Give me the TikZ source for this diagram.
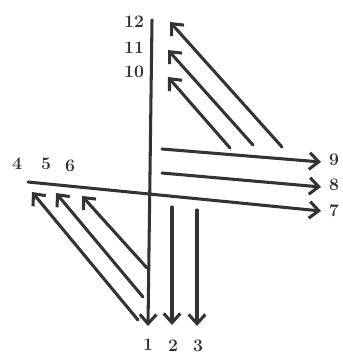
\documentclass[tikz,border=0pt]{standalone}
\usepackage{tikz}
\usetikzlibrary{positioning,arrows.meta}
\definecolor{rayGray}{RGB}{50,50,55}
\tikzset{
    axis/.style={line width=2.6pt, draw=rayGray, line cap=round},
    ray/.style={axis, -{Straight Barb[length=2.8mm, width=5mm, line width=2.6pt]}},
    num/.style={font=\fontsize{15}{15}\selectfont\bfseries, text=rayGray, inner sep=0pt}
}

\begin{document}
\begin{tikzpicture}[x=0.03cm, y=-0.03cm]
  \useasboundingbox (0,0) rectangle (343,361);

  % ends of the two crossing lines
  \coordinate (top) at (152,20);
  \coordinate (bot) at (148,326);
  \coordinate (west) at (28,182);
  \coordinate (east) at (321,211);

  % tails and tips of the loose arrows
  \coordinate (t2) at (172,207);  \coordinate (h2) at (172,325);
  \coordinate (t3) at (197,210);  \coordinate (h3) at (197,326);
  \coordinate (t4) at (138,320);  \coordinate (h4) at (32,192);
  \coordinate (t5) at (143,297);  \coordinate (h5) at (56,193);
  \coordinate (t6) at (147,268);  \coordinate (h6) at (82,196);
  \coordinate (t8) at (162,173);  \coordinate (h8) at (321,187);
  \coordinate (t9) at (162,149);  \coordinate (h9) at (321,162);
  \coordinate (t10) at (230,148); \coordinate (h10) at (168,77);
  \coordinate (t11) at (253,145); \coordinate (h11) at (168,50);
  \coordinate (t12) at (282,147); \coordinate (h12) at (170,22);

  \draw[ray] (top) -- (bot);
  \draw[ray] (west) -- (east);
  \foreach \k in {2,3,4,5,6,8,9,10,11,12}
    \draw[ray] (t\k) -- (h\k);

  % numbers
  \node[num] (n1) at (148,345) {1};
  \node[num] (n2) at (173,346) {2};
  \node[num] (n3) at (198,346) {3};
  \node[num] (n4) at (17,164) {4};
  \node[num] (n5) at (46,164) {5};
  \node[num] (n6) at (70,166) {6};
  \node[num] (n7) at (334,211) {7};
  \node[num] (n8) at (334,185) {8};
  \node[num] (n9) at (334,160) {9};
  \node[num] (n10) at (134,72) {10};
  \node[num] (n11) at (134,48) {11};
  \node[num] (n12) at (134,22) {12};
\end{tikzpicture}
\end{document}
